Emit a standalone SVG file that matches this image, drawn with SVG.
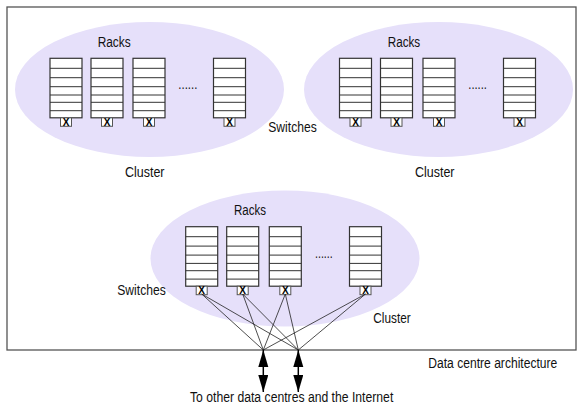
<svg xmlns="http://www.w3.org/2000/svg" xmlns:xlink="http://www.w3.org/1999/xlink" width="582" height="409" viewBox="0 0 582 409">
<style>
.frame{fill:#fff;stroke:#555;stroke-width:1.3}
.cluster{fill:#e6e0fa;stroke:none}
.rack{fill:#fff;stroke:#333;stroke-width:1.2}
.row{stroke:#333;stroke-width:1}
.sw{fill:#fff;stroke:#555;stroke-width:1}
.x{font-family:"Liberation Sans",Arial,sans-serif;font-size:10px;font-weight:bold;fill:#000;text-anchor:middle}
.lbl{font-family:"Liberation Sans",Arial,sans-serif;font-size:14px;fill:#111}
.wire{stroke:#222;stroke-width:0.8;fill:none}
.arr{stroke:#000;stroke-width:1.5;fill:none;marker-start:url(#head);marker-end:url(#head)}
</style>
<defs>
<marker id="head" markerUnits="userSpaceOnUse" markerWidth="18" markerHeight="11" refX="17" refY="5" orient="auto-start-reverse" viewBox="0 0 18 11">
<path d="M0,0 L17,5 L0,10 z" fill="#000"/>
</marker>
<g id="rackshape">
<rect class="rack" x="0" y="0" width="32" height="59.5"/>
<path class="row" d="M0,10H32M0,19.4H32M0,28.4H32M0,36.7H32M0,44H32M0,52.4H32"/>
<rect class="sw" x="10.5" y="59.5" width="11" height="8.5"/>
<text class="x" x="16" y="67.5">X</text>
</g>
</defs>
<rect class="frame" x="7" y="7" width="569" height="343"/>

<g id="cluster-left">
<ellipse class="cluster" cx="149.5" cy="89.5" rx="134.5" ry="67.5"/>
<text class="lbl" x="97.7" y="46.5" textLength="33" lengthAdjust="spacingAndGlyphs">Racks</text>
<g id="rack-l1"><use xlink:href="#rackshape" x="50" y="58.3"/></g>
<g id="rack-l2"><use xlink:href="#rackshape" x="91" y="58.3"/></g>
<g id="rack-l3"><use xlink:href="#rackshape" x="133" y="58.3"/></g>
<text class="lbl" x="178.3" y="89" textLength="19" lengthAdjust="spacingAndGlyphs">......</text>
<g id="rack-l4"><use xlink:href="#rackshape" x="213.5" y="58.3"/></g>
<text class="lbl" x="125" y="176.5" textLength="39.5" lengthAdjust="spacingAndGlyphs">Cluster</text>
</g>

<g id="cluster-right">
<ellipse class="cluster" cx="438.5" cy="89.5" rx="134.5" ry="67.5"/>
<text class="lbl" x="387.7" y="46.5" textLength="32.5" lengthAdjust="spacingAndGlyphs">Racks</text>
<g id="rack-r1"><use xlink:href="#rackshape" x="339.5" y="58.3"/></g>
<g id="rack-r2"><use xlink:href="#rackshape" x="380.5" y="58.3"/></g>
<g id="rack-r3"><use xlink:href="#rackshape" x="423" y="58.3"/></g>
<text class="lbl" x="468.3" y="89" textLength="18.5" lengthAdjust="spacingAndGlyphs">......</text>
<g id="rack-r4"><use xlink:href="#rackshape" x="503.5" y="58.3"/></g>
<text class="lbl" x="415" y="176.5" textLength="39.5" lengthAdjust="spacingAndGlyphs">Cluster</text>
</g>

<g id="switches-top-label">
<text class="lbl" x="268.3" y="131.7" textLength="48.4" lengthAdjust="spacingAndGlyphs">Switches</text>
</g>

<g id="cluster-bottom">
<ellipse class="cluster" cx="285" cy="258.5" rx="134.5" ry="68"/>
<text class="lbl" x="234" y="215" textLength="32" lengthAdjust="spacingAndGlyphs">Racks</text>
<g id="rack-b1"><use xlink:href="#rackshape" x="185.7" y="226.7"/></g>
<g id="rack-b2"><use xlink:href="#rackshape" x="226.7" y="226.7"/></g>
<g id="rack-b3"><use xlink:href="#rackshape" x="269.3" y="226.7"/></g>
<text class="lbl" x="315" y="257.7" textLength="17.7" lengthAdjust="spacingAndGlyphs">......</text>
<g id="rack-b4"><use xlink:href="#rackshape" x="349.5" y="226.7"/></g>
<text class="lbl" x="373.3" y="323.3" textLength="37.4" lengthAdjust="spacingAndGlyphs">Cluster</text>
</g>

<g id="switches-bottom-label">
<text class="lbl" x="117.3" y="295" textLength="48.4" lengthAdjust="spacingAndGlyphs">Switches</text>
</g>

<g id="connectors">
<path class="wire" d="M201.7,294L263.3,350M201.7,294L298.3,350M242.7,294L263.3,350M242.7,294L298.3,350M285.3,294L263.3,350M285.3,294L298.3,350M365.5,294L263.3,350M365.5,294L298.3,350"/>
<path class="arr" d="M263.3,350V392"/>
<path class="arr" d="M298.3,350V392"/>
</g>

<g id="labels">
<text class="lbl" x="428.3" y="368.3" textLength="129" lengthAdjust="spacingAndGlyphs">Data centre architecture</text>
<text class="lbl" x="190" y="401.7" textLength="203.3" lengthAdjust="spacingAndGlyphs">To other data centres and the Internet</text>
</g>
</svg>
